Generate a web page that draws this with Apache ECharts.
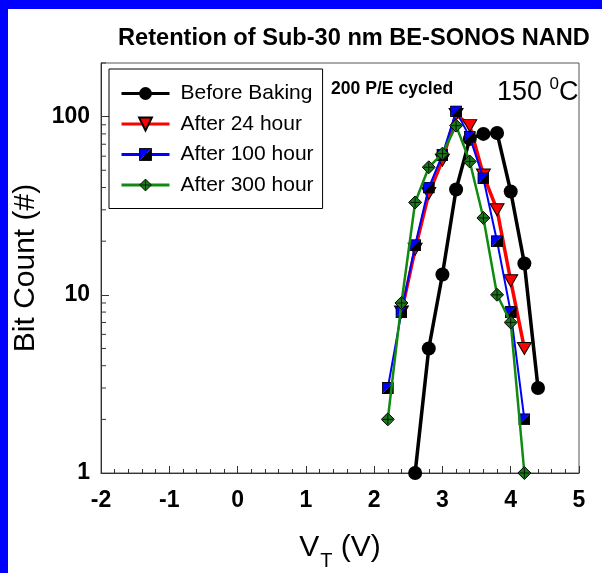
<!DOCTYPE html>
<html>
<head>
<meta charset="utf-8">
<script src="https://cdn.jsdelivr.net/npm/echarts@6/dist/echarts.min.js"></script>
<style>
  html, body { margin: 0; padding: 0; background: #fff; }
  #chart { width: 602px; height: 573px; }
</style>
</head>
<body>
<div id="chart"></div>
<script>
// data (V_T in volts, bit counts)
const beforeX = [2.6, 2.8, 3.0, 3.2, 3.4, 3.6, 3.8, 4.0, 4.2, 4.4];
const beforeY = [1, 5, 13, 39, 75, 80, 81, 38, 15, 3];
const after24X = [2.4, 2.6, 2.8, 3.0, 3.2, 3.4, 3.6, 3.8, 4.0, 4.2];
const after24Y = [8, 18, 37, 57, 103, 89, 47, 30, 12, 5];
const after100X = [2.2, 2.4, 2.6, 2.8, 3.0, 3.2, 3.4, 3.6, 3.8, 4.0, 4.2];
const after100Y = [3, 8, 19, 40, 61, 107, 77, 45, 20, 8, 2];
const after300X = [2.2, 2.4, 2.6, 2.8, 3.0, 3.2, 3.4, 3.6, 3.8, 4.0, 4.2];
const after300Y = [2, 9, 33, 52, 62, 89, 56, 27, 10, 7, 1];

const seriesNames = ['Before Baking', 'After 24 hour', 'After 100 hour', 'After 300 hour'];
const yTickLabels = [1, 10, 100];
const yMinorTicks = [2, 3, 4, 5, 6, 7, 8, 9, 20, 30, 40, 50, 60, 70, 80, 90, 200];

const FONT = 'Liberation Sans, Arial, sans-serif';

function pairs(xs, ys) {
  return xs.map((x, i) => [x, ys[i]]);
}

function svgSymbol(svg) {
  return 'image://data:image/svg+xml;charset=utf-8,' + encodeURIComponent(svg);
}

// blue/black split square
const squareIcon = svgSymbol(
  "<svg xmlns='http://www.w3.org/2000/svg' width='24' height='24'>" +
  "<polygon points='1,1 23,1 1,23' fill='#0000ff'/>" +
  "<polygon points='23,1 23,23 1,23' fill='#000'/>" +
  "<rect x='1' y='1' width='22' height='22' fill='none' stroke='#000' stroke-width='2'/></svg>"
);
// green diamond with a cross
const diamondIcon = svgSymbol(
  "<svg xmlns='http://www.w3.org/2000/svg' width='28' height='28'>" +
  "<polygon points='14,1 27,14 14,27 1,14' fill='#1a7a1a' stroke='#000' stroke-width='2'/>" +
  "<line x1='14' y1='4' x2='14' y2='24' stroke='#000' stroke-width='1.6'/>" +
  "<line x1='4' y1='14' x2='24' y2='14' stroke='#000' stroke-width='1.6'/></svg>"
);

const chart = echarts.init(document.getElementById('chart'));

chart.setOption({
  backgroundColor: '#fff',
  animation: false,
  textStyle: { fontFamily: FONT },
  grid: {
    left: 101, top: 63, right: 23, bottom: 100,
    containLabel: false,
    outerBoundsMode: 'none',
    show: true,
    borderColor: '#555',
    borderWidth: 1
  },
  legend: {
    data: seriesNames,
    orient: 'vertical',
    left: 109,
    top: 69,
    padding: [14, 9, 13, 11],
    itemWidth: 48,
    itemHeight: 16,
    itemGap: 9.5,
    selectedMode: false,
    backgroundColor: '#fff',
    borderColor: '#000',
    borderWidth: 1,
    borderRadius: 0,
    lineStyle: { width: 3 },
    textStyle: {
      fontSize: 21,
      color: '#000',
      fontFamily: FONT,
      lineHeight: 18,
      padding: [0, 0, 0, 6]
    }
  },
  xAxis: {
    type: 'value',
    min: -2,
    max: 5,
    interval: 1,
    name: '{a|V}{b|T}{a| (V)}',
    nameLocation: 'middle',
    nameGap: 60,
    nameTextStyle: {
      rich: {
        a: { fontSize: 30, fontFamily: FONT, color: '#000', verticalAlign: 'top', lineHeight: 30 },
        b: { fontSize: 20, fontFamily: FONT, color: '#000', verticalAlign: 'top', lineHeight: 20, padding: [18, 0, 0, 1] }
      }
    },
    axisLine: { onZero: false, lineStyle: { color: '#333', width: 1 } },
    axisTick: { inside: true, length: 7, lineStyle: { color: '#333' } },
    minorTick: { show: true, splitNumber: 5, length: 4, lineStyle: { color: '#333' } },
    splitLine: { show: false },
    axisLabel: { fontSize: 23, fontWeight: 'bold', color: '#000', margin: 16, fontFamily: FONT }
  },
  yAxis: {
    type: 'log',
    logBase: 10,
    min: 1,
    max: 200,
    name: 'Bit Count (#)',
    nameLocation: 'middle',
    nameGap: 50,
    nameTextStyle: { fontSize: 30, color: '#000', fontFamily: FONT },
    axisLine: { onZero: false, lineStyle: { color: '#333', width: 1 } },
    axisTick: { inside: true, length: 8, lineStyle: { color: '#333' } },
    splitLine: { show: false },
    axisLabel: {
      fontSize: 23,
      fontWeight: 'bold',
      color: '#000',
      margin: 11,
      fontFamily: FONT,
      showMaxLabel: false,
      formatter: v => (yTickLabels.indexOf(Math.round(v)) >= 0 ? String(Math.round(v)) : '')
    }
  },
  graphic: [
    // blue frame of the slide
    { type: 'rect', left: 0, top: 0, shape: { width: 602, height: 9 }, style: { fill: '#0000ff' }, z: 100 },
    { type: 'rect', left: 0, top: 0, shape: { width: 8, height: 573 }, style: { fill: '#0000ff' }, z: 100 },
    {
      type: 'text', left: 118, top: 26, z: 100,
      style: { text: 'Retention of Sub-30 nm BE-SONOS NAND', font: 'bold 23.6px ' + FONT, fill: '#000' }
    },
    {
      type: 'text', left: 331, top: 80, z: 100,
      style: { text: '200 P/E cycled', font: 'bold 17.6px ' + FONT, fill: '#000' }
    },
    {
      type: 'text', left: 497, top: 76, z: 100,
      style: {
        text: '{n|150 }{s|0}{n|C}',
        rich: {
          n: { fontSize: 27, fontFamily: FONT, fill: '#000', verticalAlign: 'bottom', lineHeight: 30 },
          s: { fontSize: 17, fontFamily: FONT, fill: '#000', verticalAlign: 'top', lineHeight: 17 }
        }
      }
    }
  ],
  series: [
    {
      name: seriesNames[0],
      type: 'line',
      data: pairs(beforeX, beforeY),
      symbol: 'circle',
      symbolSize: 14,
      color: '#000',
      lineStyle: { color: '#000', width: 3.5 },
      itemStyle: { color: '#000' },
      z: 2
    },
    {
      name: seriesNames[1],
      type: 'line',
      data: pairs(after24X, after24Y),
      symbol: 'path://M0,0L12,0L6,10Z',
      symbolSize: [14, 12],
      color: '#ff0000',
      lineStyle: { color: '#ff0000', width: 3.5 },
      itemStyle: { color: '#ff0000', borderColor: '#000', borderWidth: 1 },
      z: 3
    },
    {
      name: seriesNames[2],
      type: 'line',
      data: pairs(after100X, after100Y),
      symbol: squareIcon,
      symbolSize: 12,
      color: '#0000ff',
      lineStyle: { color: '#0000ff', width: 2 },
      itemStyle: { color: '#0000ff' },
      z: 4
    },
    {
      name: seriesNames[3],
      type: 'line',
      data: pairs(after300X, after300Y),
      symbol: diamondIcon,
      symbolSize: 14,
      color: '#108a10',
      lineStyle: { color: '#108a10', width: 2.5 },
      itemStyle: { color: '#108a10' },
      z: 5
    },
    {
      // minor log ticks on the left axis, placed through the axis scale
      type: 'custom',
      silent: true,
      clip: false,
      data: yMinorTicks.map(v => [-2, v]),
      renderItem: (params, api) => {
        const p = api.coord([api.value(0), api.value(1)]);
        return {
          type: 'line',
          shape: { x1: p[0], y1: p[1], x2: p[0] + 5, y2: p[1] },
          style: { stroke: '#333', lineWidth: 1 }
        };
      },
      z: 1
    }
  ]
});
</script>
</body>
</html>
